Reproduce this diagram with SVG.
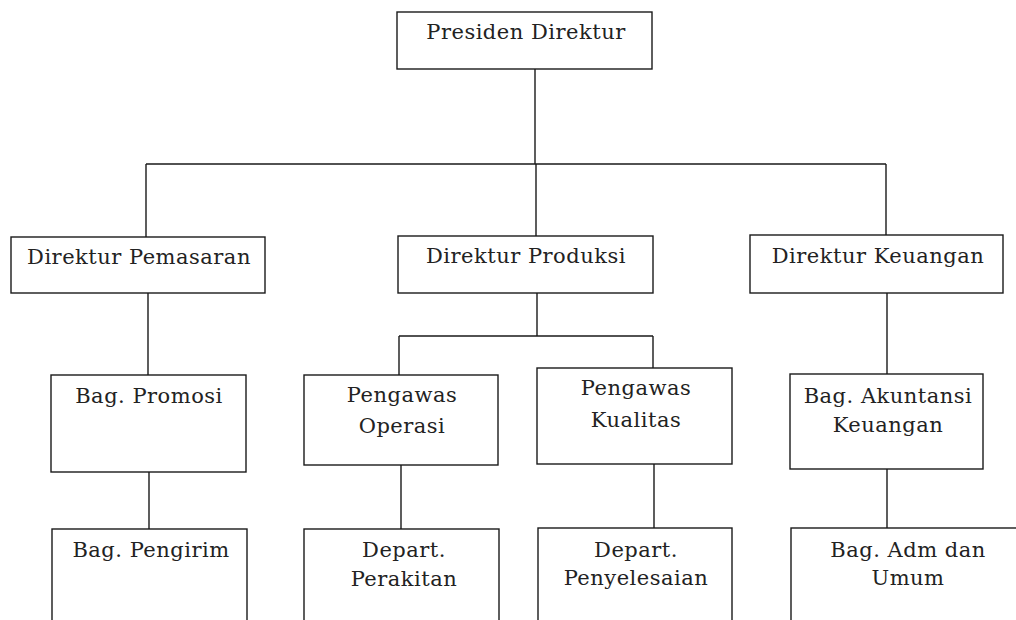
<svg xmlns="http://www.w3.org/2000/svg" width="1016" height="620" viewBox="0 0 1016 620">
<style>
.box{fill:#fff;stroke:#1a1a1a;stroke-width:1.4}
.t{font-family:"DejaVu Serif","Liberation Serif",serif;font-size:21px;font-weight:normal;letter-spacing:0.5px;fill:#222;text-anchor:middle}
.c{fill:none;stroke:#1a1a1a;stroke-width:1.4}
</style>
<rect width="1016" height="620" fill="#fff"/>
<g id="connectors">
<path class="c" d="M535 69V164M146 164H886M146 164V237M536 164V236M886 164V235"/>
<path class="c" d="M148 293V375M149 472V529"/>
<path class="c" d="M537 293V336M399 336H653M399 336V375M653 336V368M401 465V529M654 464V528"/>
<path class="c" d="M887 293V374M887 469V528"/>
</g>
<g id="presiden"><rect class="box" x="397" y="12" width="255" height="57"/><text class="t" x="526" y="39">Presiden Direktur</text></g>
<g id="pemasaran"><rect class="box" x="11" y="237" width="254" height="56"/><text class="t" x="139" y="264">Direktur Pemasaran</text></g>
<g id="produksi"><rect class="box" x="398" y="236" width="255" height="57"/><text class="t" x="526" y="263">Direktur Produksi</text></g>
<g id="keuangan"><rect class="box" x="750" y="235" width="253" height="58"/><text class="t" x="878" y="263">Direktur Keuangan</text></g>
<g id="promosi"><rect class="box" x="51" y="375" width="195" height="97"/><text class="t" x="149" y="403">Bag. Promosi</text></g>
<g id="operasi"><rect class="box" x="304" y="375" width="194" height="90"/><text class="t" x="402" y="402">Pengawas</text><text class="t" x="402" y="433">Operasi</text></g>
<g id="kualitas"><rect class="box" x="537" y="368" width="195" height="96"/><text class="t" x="636" y="395">Pengawas</text><text class="t" x="636" y="427">Kualitas</text></g>
<g id="akuntansi"><rect class="box" x="790" y="374" width="193" height="95"/><text class="t" x="888" y="403">Bag. Akuntansi</text><text class="t" x="888" y="432">Keuangan</text></g>
<g id="pengirim"><rect class="box" x="52" y="529" width="195" height="120"/><text class="t" x="151" y="557">Bag. Pengirim</text></g>
<g id="perakitan"><rect class="box" x="304" y="529" width="195" height="120"/><text class="t" x="404" y="557">Depart.</text><text class="t" x="404" y="586">Perakitan</text></g>
<g id="penyelesaian"><rect class="box" x="538" y="528" width="194" height="120"/><text class="t" x="636" y="557">Depart.</text><text class="t" x="636" y="585">Penyelesaian</text></g>
<g id="adm"><rect class="box" x="791" y="528" width="240" height="120"/><text class="t" x="908" y="557">Bag. Adm dan</text><text class="t" x="908" y="585">Umum</text></g>
</svg>
